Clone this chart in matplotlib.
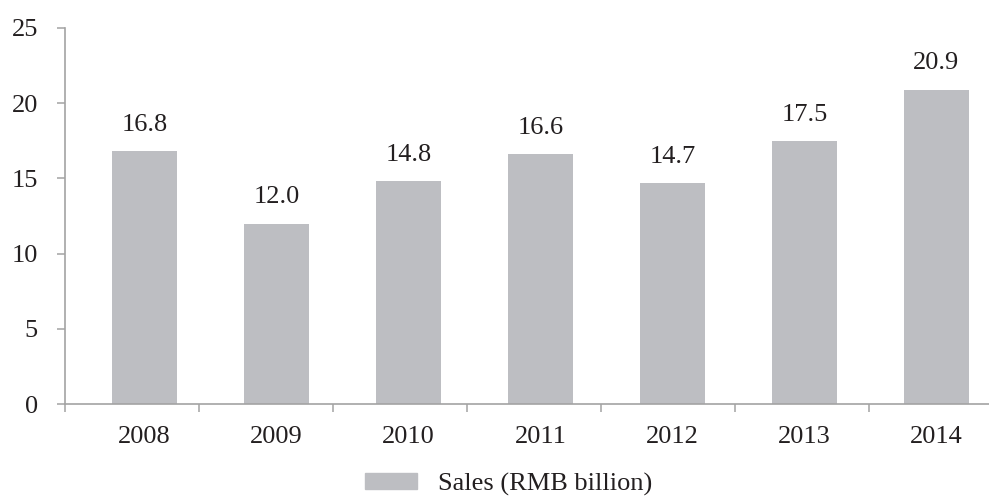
"""
Bar chart of yearly sales (RMB billion), 2008-2014.
"""
import numpy as np
import matplotlib.pyplot as plt
from matplotlib.patches import Patch

years = ["2008", "2009", "2010", "2011", "2012", "2013", "2014"]
sales = [16.8, 12.0, 14.8, 16.6, 14.7, 17.5, 20.9]
series_label = "Sales (RMB billion)"

BAR = "#bdbec2"
AXIS = "#a3a3a3"
TEXT = "#231f20"


def main():
    plt.rcParams['font.family'] = ['Liberation Serif', 'DejaVu Serif']
    fig = plt.figure(figsize=(9.89, 4.97), dpi=100)
    ax = fig.add_axes([0.0657, 0.1871, 0.9343, 0.7566])

    x = np.arange(len(years))
    bars = ax.bar(x, sales, width=0.49, color=BAR)
    for rect, v in zip(bars, sales):
        ax.annotate(f"{v:.1f}", (rect.get_x() + rect.get_width() / 2, v),
                    xytext=(0, 11), textcoords="offset points",
                    ha="center", va="bottom", fontsize=19, color=TEXT)

    # axis runs slightly past the last category, as in the source chart
    left = -0.602
    ax.set_xlim(left, left + 7.0)
    ax.set_ylim(0, 25)
    ax.set_yticks([0, 5, 10, 15, 20, 25])
    ax.set_xticks(x)
    ax.set_xticklabels(years)
    ax.set_xticks(left + np.arange(len(years)) * 134 / 132, minor=True)

    for s in ["top", "right"]:
        ax.spines[s].set_visible(False)
    for s in ["left", "bottom"]:
        ax.spines[s].set_color(AXIS)
        ax.spines[s].set_linewidth(1.2)

    ax.tick_params(axis="x", which="major", length=0, pad=15.5,
                   labelsize=19, labelcolor=TEXT)
    ax.tick_params(axis="x", which="minor", length=6, width=1.1,
                   color=AXIS, direction="out")
    ax.tick_params(axis="y", length=5.5, width=1.1, color=AXIS,
                   direction="out", pad=14, labelsize=19, labelcolor=TEXT)

    handle = Patch(color=BAR, label=series_label)
    fig.legend(handles=[handle], loc="center", bbox_to_anchor=(0.514, 0.026),
               frameon=False, fontsize=19, handlelength=1.97,
               handleheight=0.57, handletextpad=0.8, labelcolor=TEXT,
               borderpad=0, borderaxespad=0)

    fig.savefig("out.png", dpi=100)


if __name__ == "__main__":
    main()
